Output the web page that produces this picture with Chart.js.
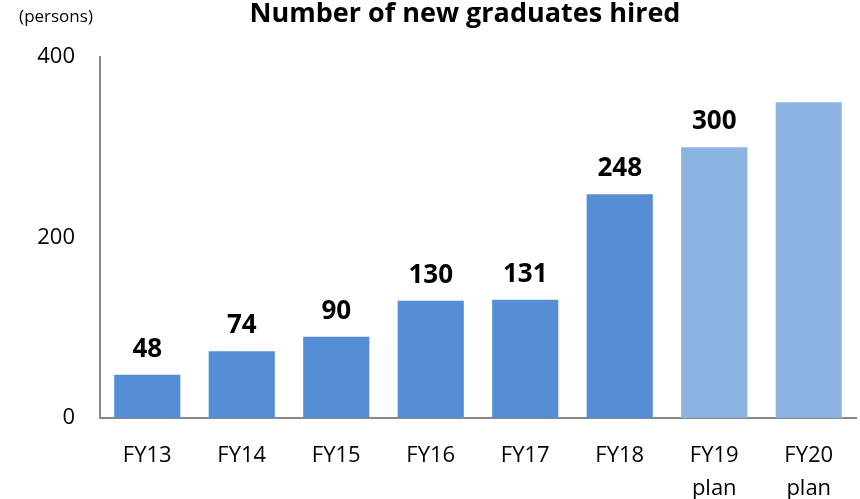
<!DOCTYPE html>
<html>
<head>
<meta charset="utf-8">
<script src="https://cdn.jsdelivr.net/npm/chart.js@4"></script>
<style>
  html, body { margin: 0; padding: 0; background: #fff; }
  #wrap { width: 860px; height: 499px; }
</style>
</head>
<body>
<div id="wrap"><canvas id="myChart"></canvas></div>
<script>
var xValues = [["FY13"], ["FY14"], ["FY15"], ["FY16"], ["FY17"], ["FY18"], ["FY19", "plan"], ["FY20", "plan"]];
var yValues = [48, 74, 90, 130, 131, 248, 300, 350];
var showLabel = [true, true, true, true, true, true, true, false];
var yTicks = [0, 200, 400];
var barColors = ["#558ED5", "#558ED5", "#558ED5", "#558ED5", "#558ED5", "#558ED5", "#8DB3E2", "#8DB3E2"];

var FONT = "'Open Sans', 'Noto Sans', sans-serif";

// title, unit text and value labels
var textPlugin = {
  id: "texts",
  afterDatasetsDraw: function (chart) {
    var ctx = chart.ctx;
    ctx.save();
    ctx.fillStyle = "#000";
    ctx.textAlign = "center";
    ctx.textBaseline = "alphabetic";
    ctx.font = "bold 27px " + FONT;
    ctx.fillText("Number of new graduates hired", 465, 22);
    ctx.font = "17px " + FONT;
    ctx.fillText("(persons)", 56, 22);
    ctx.font = "bold 26px " + FONT;
    var meta = chart.getDatasetMeta(0);
    meta.data.forEach(function (bar, i) {
      if (!showLabel[i]) return;
      ctx.fillText(yValues[i], bar.x, bar.y - 18);
    });
    ctx.restore();
  }
};

new Chart("myChart", {
  type: "bar",
  data: {
    labels: xValues,
    datasets: [{
      backgroundColor: barColors,
      data: yValues,
      categoryPercentage: 1,
      barPercentage: 0.7
    }]
  },
  plugins: [textPlugin],
  options: {
    responsive: true,
    maintainAspectRatio: false,
    animation: false,
    layout: { padding: { top: 57, right: 4, left: 0, bottom: 0 } },
    plugins: {
      legend: { display: false },
      tooltip: { enabled: false }
    },
    scales: {
      x: {
        grid: { display: false, drawTicks: false },
        border: { display: true, color: "#888", width: 2 },
        ticks: { color: "#000", font: { family: FONT, size: 22, lineHeight: 1.5 }, padding: 21, maxRotation: 0 },
        afterFit: function (s) { s.height = 81; }
      },
      y: {
        min: 0,
        max: 400,
        grid: { display: false, drawTicks: false },
        border: { display: true, color: "#888", width: 2 },
        afterBuildTicks: function (s) { s.ticks = yTicks.map(function (v) { return { value: v }; }); },
        ticks: { color: "#000", font: { family: FONT, size: 22 }, padding: 25 },
        afterFit: function (s) { s.width = 100; }
      }
    }
  }
});
</script>
</body>
</html>
